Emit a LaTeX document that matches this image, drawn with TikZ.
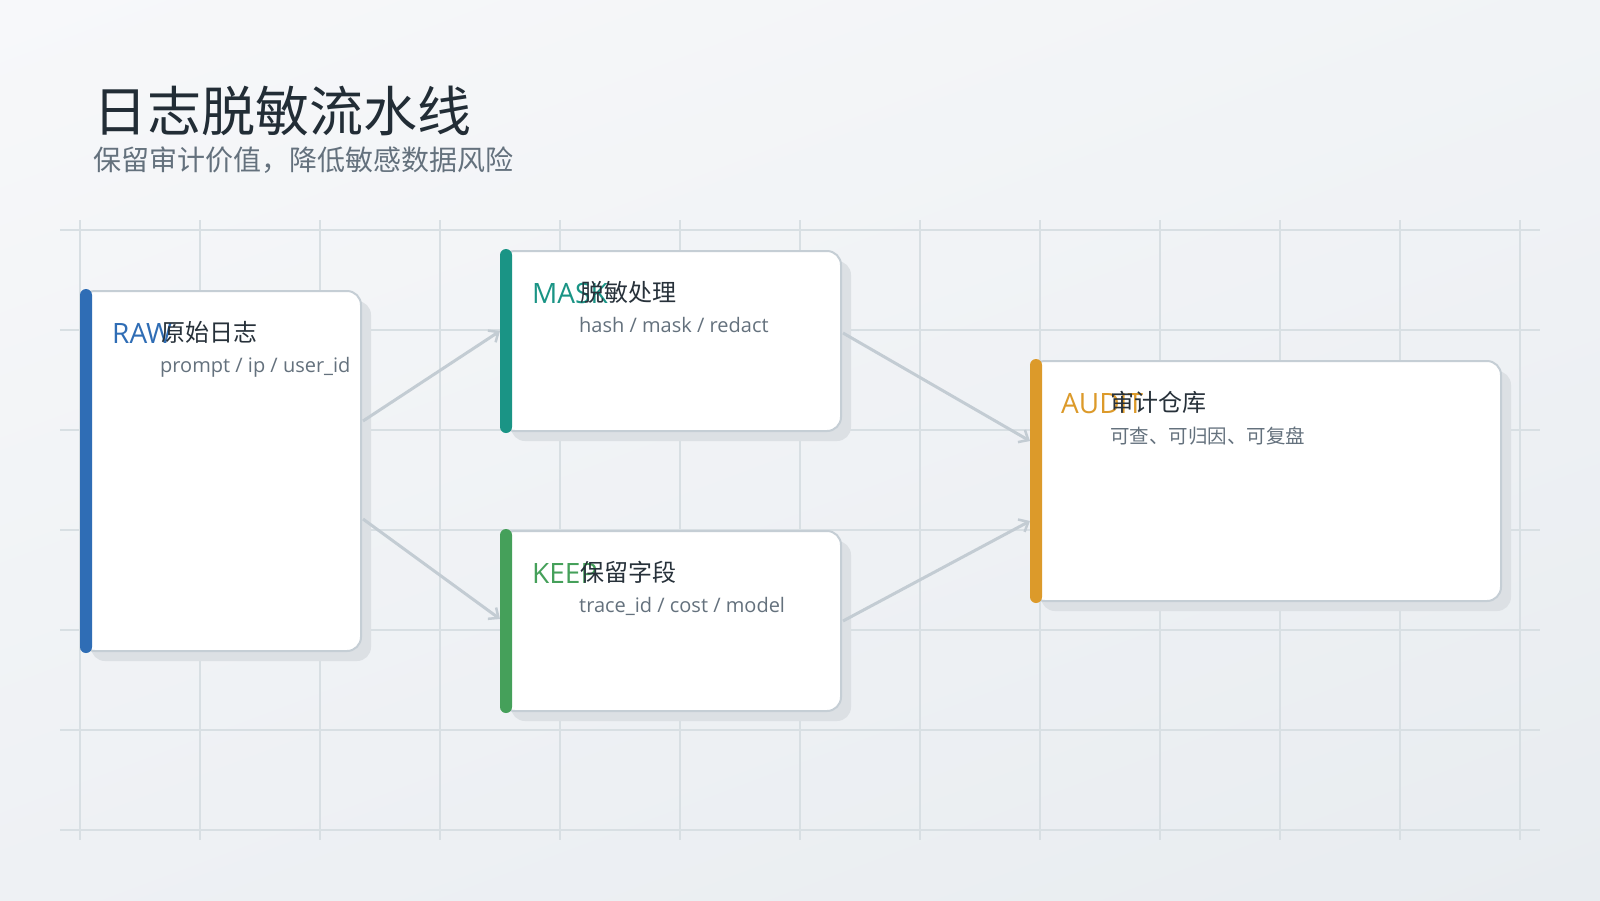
\documentclass[tikz,border=0pt]{standalone}
\usepackage{fontspec}
\setmainfont{Noto Sans CJK SC}
\newfontfamily\lat{Open Sans}
\usetikzlibrary{arrows.meta,shadows,shadings}
\definecolor{bgA}{HTML}{F7F8FA}
\definecolor{bgB}{HTML}{E8ECF0}
\definecolor{gridc}{HTML}{D8DFE3}
\definecolor{borderc}{HTML}{C5CED5}
\definecolor{shadowc}{HTML}{DCE0E4}
\definecolor{arrowc}{HTML}{C3CCD3}
\definecolor{titlec}{HTML}{222D36}
\definecolor{subc}{HTML}{64717D}
\definecolor{namec}{HTML}{27313A}
\definecolor{rawc}{HTML}{2F6DB5}
\definecolor{maskc}{HTML}{1A9485}
\definecolor{keepc}{HTML}{45A05A}
\definecolor{auditc}{HTML}{DC9A2A}
\tikzset{
  card/.style={draw=borderc, line width=2pt, fill=white, rounded corners=14pt,
    anchor=north west, inner sep=0pt,
    general shadow={shadow xshift=10pt, shadow yshift=-10pt, fill=shadowc}},
  tag/.style={anchor=base west, font=\lat\fontsize{28}{30}\selectfont, inner sep=0pt},
  cname/.style={anchor=base west, font=\fontsize{24}{28}\selectfont, text=namec, inner sep=0pt},
  csub/.style={anchor=base west, font=\lat\fontsize{20}{22}\selectfont, text=subc, inner sep=0pt},
  csubzh/.style={anchor=base west, font=\fontsize{19.5}{22}\selectfont, text=subc, inner sep=0pt},
  flow/.style={draw=arrowc, line width=3pt, -{Straight Barb[length=8pt,width=14pt,line width=2.5pt]}},
}
\begin{document}
\begin{tikzpicture}[x=1pt,y=-1pt]
\useasboundingbox (0,0) rectangle (1600,900);
\shade[upper left=bgA, upper right=bgA!60!bgB, lower left=bgA!40!bgB, lower right=bgB] (0,0) rectangle (1600,900);
% grid
\foreach \x in {80,200,...,1520} \draw[gridc, line width=1.1pt] (\x,220) -- (\x,840);
\foreach \y in {230,330,...,830} \draw[gridc, line width=1.1pt] (60,\y) -- (1540,\y);
% title
\node[anchor=base west, inner sep=0pt, text=titlec, font=\fontsize{54}{60}\selectfont] (title) at (93,131) {日志脱敏流水线};
\node[anchor=base west, inner sep=0pt, text=subc, font=\fontsize{28}{32}\selectfont] (subtitle) at (93,170) {保留审计价值，降低敏感数据风险};
% cards
\node[card, minimum width=280pt, minimum height=360pt] (raw) at (80,290) {};
\node[card, minimum width=340pt, minimum height=180pt] (mask) at (500,250) {};
\node[card, minimum width=340pt, minimum height=180pt] (keep) at (500,530) {};
\node[card, minimum width=470pt, minimum height=240pt] (audit) at (1030,360) {};
% accent bars
\fill[rawc, rounded corners=6pt] ([yshift=1pt]raw.north west) rectangle ([xshift=12pt,yshift=-1pt]raw.south west);
\fill[maskc, rounded corners=6pt] ([yshift=1pt]mask.north west) rectangle ([xshift=12pt,yshift=-1pt]mask.south west);
\fill[keepc, rounded corners=6pt] ([yshift=1pt]keep.north west) rectangle ([xshift=12pt,yshift=-1pt]keep.south west);
\fill[auditc, rounded corners=6pt] ([yshift=1pt]audit.north west) rectangle ([xshift=12pt,yshift=-1pt]audit.south west);
% arrows
\draw[flow] ([xshift=1pt,yshift=50pt]raw.east) -- ([yshift=10pt]mask.west);
\draw[flow] ([xshift=1pt,yshift=-48pt]raw.east) -- ([yshift=2pt]keep.west);
\draw[flow] ([xshift=1pt,yshift=8pt]mask.east) -- ([yshift=40pt]audit.west);
\draw[flow] ([xshift=1pt]keep.east) -- ([yshift=-40pt]audit.west);
% texts
\node[tag, text=rawc] (rawtag) at (112,343) {RAW};
\node[cname] (rawname) at (161,341) {原始日志};
\node[csub] (rawsub) at (160,372) {prompt / ip / user\_id};
\node[tag, text=maskc] (masktag) at (532,303) {MASK};
\node[cname] (maskname) at (580,301) {脱敏处理};
\node[csub] (masksub) at (579,332) {hash / mask / redact};
\node[tag, text=keepc] (keeptag) at (532,583) {KEEP};
\node[cname] (keepname) at (580,581) {保留字段};
\node[csub] (keepsub) at (579,612) {trace\_id / cost / model};
\node[tag, text=auditc] (audittag) at (1061,413) {AUDIT};
\node[cname] (auditname) at (1110,411) {审计仓库};
\node[csubzh] (auditsub) at (1110,443) {可查、可归因、可复盘};
\end{tikzpicture}
\end{document}
